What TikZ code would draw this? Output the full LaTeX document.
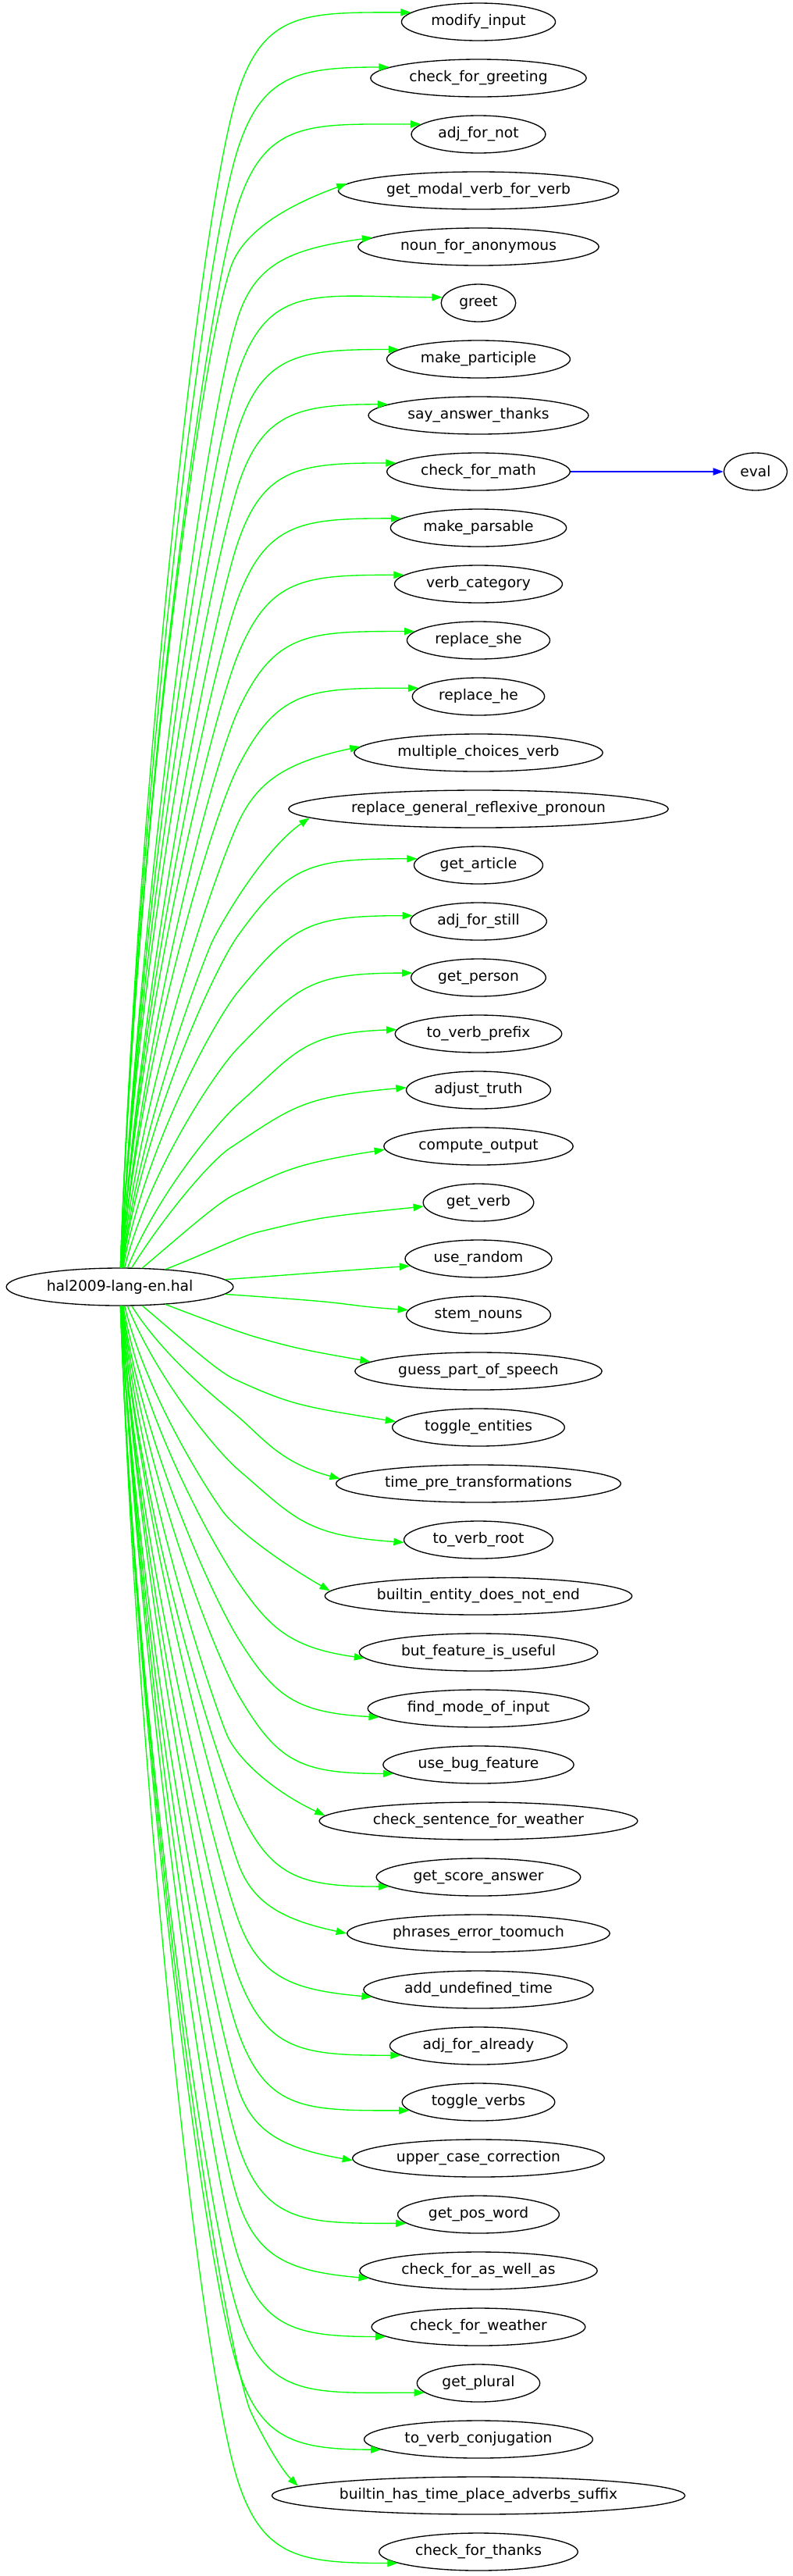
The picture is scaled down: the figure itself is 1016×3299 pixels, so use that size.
\documentclass[tikz,border=0pt]{standalone}
\usepackage{fontspec}
\setmainfont{DejaVu Sans}
\usetikzlibrary{shapes.geometric,arrows.meta,calc}

\begin{document}
\begin{tikzpicture}[x=0.75pt,y=0.75pt,
    fn node/.style={ellipse,draw,line width=1pt,inner xsep=6.8pt,inner ysep=2pt,
                    minimum width=54pt,minimum height=36pt,
                    font=\fontsize{14pt}{16pt}\selectfont},
    link/.style={green,line width=1pt,-{Triangle[length=10pt,width=7pt]}},
    call/.style={blue,line width=1pt,-{Triangle[length=10pt,width=7pt]}}]
  \useasboundingbox (0,0) rectangle (1016,-3299);
  % the file and the functions it defines
  \node[fn node] (hal) at (153.5,-1648) {hal2009-lang-en.hal};
  \foreach \txt [count=\i from 0] in {modify\_input, check\_for\_greeting, adj\_for\_not,
      get\_modal\_verb\_for\_verb, noun\_for\_anonymous, greet, make\_participle,
      say\_answer\_thanks, check\_for\_math, make\_parsable, verb\_category, replace\_she,
      replace\_he, multiple\_choices\_verb, replace\_general\_reflexive\_pronoun,
      get\_article, adj\_for\_still, get\_person, to\_verb\_prefix, adjust\_truth,
      compute\_output, get\_verb, use\_random, stem\_nouns, guess\_part\_of\_speech,
      toggle\_entities, time\_pre\_transformations, to\_verb\_root,
      builtin\_entity\_does\_not\_end, but\_feature\_is\_useful, find\_mode\_of\_input,
      use\_bug\_feature, check\_sentence\_for\_weather, get\_score\_answer,
      phrases\_error\_toomuch, add\_undefined\_time, adj\_for\_already, toggle\_verbs,
      upper\_case\_correction, get\_pos\_word, check\_for\_as\_well\_as, check\_for\_weather,
      get\_plural, to\_verb\_conjugation, builtin\_has\_time\_place\_adverbs\_suffix,
      check\_for\_thanks}
    \node[fn node] (t\i) at (613,{-28-72*\i}) {\txt};
  \node[fn node] (eval) at (968,-604) {eval};

  % links: tip angle on the target / tilt at the tip / bend point (x, drop below target)
  \foreach \tip/\tilt/\wx/\hh [count=\i from 0] in {172/0/305/90, 173/0/305/90,
      170/0/305/90, 177/20/295/100, 175/8/305/90, 171/0/305/90, 173/0/305/90,
      173/0/305/90, 174/0/305/90, 173/0/305/90, 173/0/305/90, 172/0/305/90,
      172/0/305/90, 177/12/305/90, 183/35/270/174, 174/0/305/90, 175/0/305/90,
      176/0/305/90, 177/2/305/90, 178/5/295/74, 182/9/300/62, 184/6/330/38,
      186/4/404/18, 176/-4/404/18, 175/-10/330/43, 176/-9/300/62, 178/-15/300/90,
      182/-4/305/90, 178/-30/285/109, 183/-8/305/90, 185/-3/305/90, 186/0/305/90,
      178/-25/290/112, 186/0/305/90, 180/-12/305/90, 184/-5/305/90, 187/0/305/90,
      187/0/305/90, 181/-10/305/90, 187/0/305/90, 184/-5/305/90, 186/0/305/90,
      190/0/305/90, 186/0/305/90, 177/-45/319/113, 188/0/305/90}{
    \pgfmathtruncatemacro\kk{\i<23 ? 22-\i : \i-23}
    \pgfmathtruncatemacro\sg{\i<23 ? 1 : -1}
    \pgfmathtruncatemacro\oa{{4,21,40,58,68,76,80,82,83,84,85,85,86,86,86,87,87,87,87,88,88,88,88}[\kk]}
    \pgfmathtruncatemacro\outang{\sg>0 ? \oa : 360-\oa}
    \pgfpointanchor{hal}{\outang}\pgfgetlastxy{\Sx}{\Sy}
    \pgfpointanchor{t\i}{\tip}\pgfgetlastxy{\Tx}{\Ty}
    \pgfmathsetmacro\sx{\Sx/0.75}
    \pgfmathsetmacro\sy{\Sy/0.75}
    \pgfmathsetmacro\tx{\Tx/0.75}
    \pgfmathsetmacro\ty{\Ty/0.75}
    \pgfmathsetmacro\wy{-28-72*\i-\sg*\hh}
    \pgfmathsetmacro\ch{100*veclen((\wx-\sx)/100,(\wy-\sy)/100)}
    \pgfmathsetmacro\cw{100*veclen((\tx-\wx)/100,(\ty-\wy)/100)}
    \pgfmathsetmacro\pw{\sg*min(72,atan2(abs(\ty-\sy),\tx-\sx))}
    \pgfmathsetmacro\la{0.4*\ch}
    \pgfmathsetmacro\lb{0.1*\ch+10}
    \pgfmathsetmacro\lc{0.45*\cw*max(1-abs(\tilt)/45,0.2)}
    \pgfmathsetmacro\ld{0.6*(\tx-\wx)}
    \draw[link] (hal.\outang) .. controls +(\outang:\la) and ($(\wx,\wy)+(\pw+180:\lb)$) .. (\wx,\wy)
      .. controls ($(\wx,\wy)+(\pw:\lc)$) and ($(t\i.\tip)+(180+\tilt:\ld)$) .. (t\i.\tip);
  }
  \draw[call] (t8) -- (eval);
\end{tikzpicture}
\end{document}
